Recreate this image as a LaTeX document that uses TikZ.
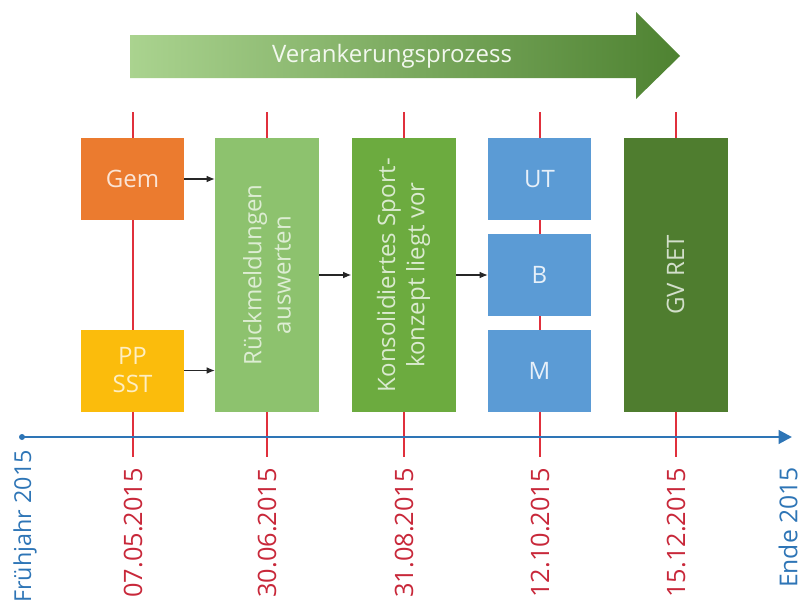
\documentclass[tikz,border=0pt]{standalone}
\usepackage{fontspec}
\setmainfont{Open Sans}
\usetikzlibrary{arrows.meta,shadings}
\definecolor{cOrange}{HTML}{EB7B2F}
\definecolor{cYellow}{HTML}{FBBC0C}
\definecolor{cLGreen}{HTML}{8DC26E}
\definecolor{cMGreen}{HTML}{6CAB3F}
\definecolor{cDGreen}{HTML}{4F7D2F}
\definecolor{cBlue}{HTML}{5B9BD5}
\definecolor{cRed}{HTML}{E0303C}
\definecolor{cDate}{HTML}{C8283A}
\definecolor{cAxis}{HTML}{2E75B6}
\definecolor{cArrL}{HTML}{AAD38F}
\definecolor{cArrR}{HTML}{4E8231}
\tikzset{
  boxtxt/.style={font=\fontsize{18}{22}\selectfont},
  smallbox/.style={boxtxt, minimum width=77.25pt, minimum height=61.5pt, inner sep=0pt, align=center},
  tallbox/.style={boxtxt, rotate=90, minimum width=205.5pt, minimum height=78pt, inner sep=0pt, align=center},
  redline/.style={draw=cRed, line width=1.9pt},
  conn/.style={draw=black!85, line width=0.8pt, -{Latex[length=6pt,width=5pt]}},
  datelbl/.style={rotate=90, anchor=east, text=cDate, inner sep=0pt, font=\fontsize{19}{22}\selectfont},
  endlbl/.style={rotate=90, anchor=east, text=cAxis, inner sep=0pt, font=\fontsize{18.5}{22}\selectfont},
}
\begin{document}
\begin{tikzpicture}[x=0.75pt,y=-0.75pt]
\useasboundingbox (0,0) rectangle (803,611);
% red time lines
\foreach \xx/\nm in {133/a,267/b,404/c,540/d,676/e}{
  \coordinate (t\nm) at (\xx,112);
  \coordinate (u\nm) at (\xx,457);
  \draw[redline] (t\nm) -- (u\nm);
}
% big process arrow
\shade[left color=cArrL, right color=cArrR] (130,35) -- (636,35) -- (636,12) -- (680,56) -- (636,99) -- (636,78) -- (130,78) -- cycle;
\node[text=white!85!cArrL, font=\fontsize{18}{22}\selectfont] (proc) at (392,56) {Verankerungsprozess};
% boxes
\node[smallbox, fill=cOrange, text=white!80!cOrange] (gem) at (132.5,179) {Gem};
\node[smallbox, fill=cYellow, text=white!75!cYellow, font=\fontsize{18}{21}\selectfont] (pp) at (132.5,370.5) {PP\\SST};
\node[tallbox, fill=cLGreen, text=white!70!cLGreen] (rueck) at (267,275) {Rückmeldungen\\auswerten};
\node[tallbox, fill=cMGreen, text=white!75!cMGreen] (kons) at (403.5,275) {Konsolidiertes Sport-\\konzept liegt vor};
\node[smallbox, fill=cBlue, text=white!85!cBlue] (ut) at (539.5,179) {UT};
\node[smallbox, fill=cBlue, text=white!85!cBlue] (bb) at (539.5,275) {B};
\node[smallbox, fill=cBlue, text=white!85!cBlue] (mm) at (539.5,370.5) {M};
\node[tallbox, fill=cDGreen, text=white!75!cDGreen] (gv) at (675.5,275) {GV RET};
% connectors
\draw[conn] (gem.east) -- (gem.east -| rueck.north);
\draw[conn] (pp.east) -- (pp.east -| rueck.north);
\draw[conn] (rueck.south) -- (kons.north);
\draw[conn] (kons.south) -- (kons.south -| bb.west);
% axis
\coordinate (ax0) at (22,437);
\coordinate (ax1) at (792,437);
\fill[cAxis] (ax0) circle (3);
\draw[cAxis, line width=2.2pt, -{Triangle[length=10pt,width=10pt]}] (ax0) -- (ax1);
% labels
\node[endlbl, font=\fontsize{17.5}{22}\selectfont] (fr) at (25,450) {Frühjahr 2015};
\node[datelbl] (d1) at (133,468) {07.05.2015};
\node[datelbl] (d2) at (267,468) {30.06.2015};
\node[datelbl] (d3) at (404,468) {31.08.2015};
\node[datelbl] (d4) at (540,468) {12.10.2015};
\node[datelbl] (d5) at (676,468) {15.12.2015};
\node[endlbl] (en) at (788,467) {Ende 2015};
\end{tikzpicture}
\end{document}
